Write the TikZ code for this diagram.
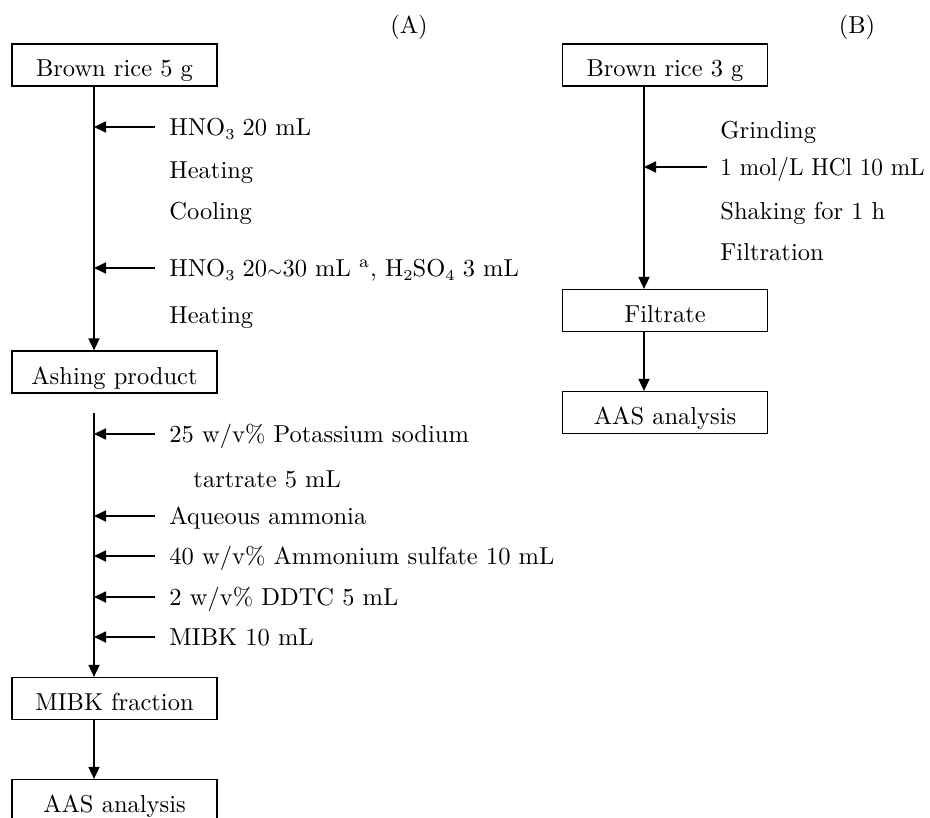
\documentclass[tikz,border=0pt]{standalone}
\usetikzlibrary{arrows.meta}
\newcommand{\sbs}[1]{\raisebox{-0.35ex}{\fontsize{6.2}{7}\selectfont #1}}
\begin{document}
\begin{tikzpicture}[x=0.4082pt,y=-0.4082pt,
  every node/.style={font=\fontsize{10}{12}\selectfont},
  box/.style={draw,line width=0.5pt,minimum width=83.7pt,minimum height=17.14pt,inner sep=0pt,text height=9.8pt,text depth=0pt,align=center},
  lbl/.style={anchor=west,inner sep=0pt,text height=6.9pt,text depth=0pt},
  flow/.style={line width=0.68pt,-{Triangle[length=4.9pt,width=4.5pt]}},
  feed/.style={line width=0.68pt,-{Triangle[length=4.9pt,width=4.5pt]}}]
\useasboundingbox (0,0) rectangle (930,818);
% ---------- (A) ----------
\node[inner sep=0pt] (ta) at (409,27) {(A)};
\node[box] (a1) at (114.5,65) {Brown rice 5 g};
\node[box] (a2) at (114.5,372) {Ashing product};
\node[box] (a3) at (114.5,698.5) {MIBK fraction};
\node[box] (a4) at (114.5,800.5) {AAS analysis};
\coordinate (lx) at (94,0);
\coordinate (s2) at (94,413);
\draw[flow] (a1.south -| lx) -- (a2.north -| lx);
\draw[flow] (s2) -- (a3.north -| lx);
\draw[flow] (a3.south -| lx) -- (a4.north -| lx);
% labels left, upper
\node[lbl] (l1) at (169,127) {HNO\sbs{3} 20 mL};
\node[lbl] (l2) at (169,170) {Heating};
\node[lbl] (l3) at (169,211) {Cooling};
\node[lbl] (l4) at (169,268) {HNO\sbs{3} 20$\scriptstyle\sim$30 mL \textsuperscript{a}, H\sbs{2}SO\sbs{4} 3 mL};
\node[lbl] (l5) at (169,315) {Heating};
% labels left, lower
\node[lbl] (m1) at (169,434) {25 w/v\% Potassium sodium};
\node[lbl] (m2) at (193,479) {tartrate 5 mL};
\node[lbl] (m3) at (169,516) {Aqueous ammonia};
\node[lbl] (m4) at (169,556) {40 w/v\% Ammonium sulfate 10 mL};
\node[lbl] (m5) at (169,597) {2 w/v\% DDTC 5 mL};
\node[lbl] (m6) at (169,637) {MIBK 10 mL};
\foreach \n in {l1,l4,m1,m3,m4,m5,m6}{
  \coordinate (f\n) at ([xshift=-5.7pt]\n.west);
  \draw[feed] (f\n) -- (f\n -| lx);
}
% ---------- (B) ----------
\node[inner sep=0pt] (tb) at (857,27) {(B)};
\node[box] (b1) at (665,65) {Brown rice 3 g};
\node[box] (b2) at (665,310.5) {Filtrate};
\node[box] (b3) at (665,412.5) {AAS analysis};
\coordinate (rx) at (644,0);
\draw[flow] (b1.south -| rx) -- (b2.north -| rx);
\draw[flow] (b2.south -| rx) -- (b3.north -| rx);
\node[lbl] (r1) at (720,130) {Grinding};
\node[lbl] (r2) at (720,167) {\scalebox{0.95}[1]{1 mol/L HCl 10 mL}};
\node[lbl] (r3) at (720,211) {Shaking for 1 h};
\node[lbl] (r4) at (720,252) {Filtration};
\coordinate (fr2) at ([xshift=-5.3pt]r2.west);
\draw[feed] (fr2) -- (fr2 -| rx);
\end{tikzpicture}
\end{document}
